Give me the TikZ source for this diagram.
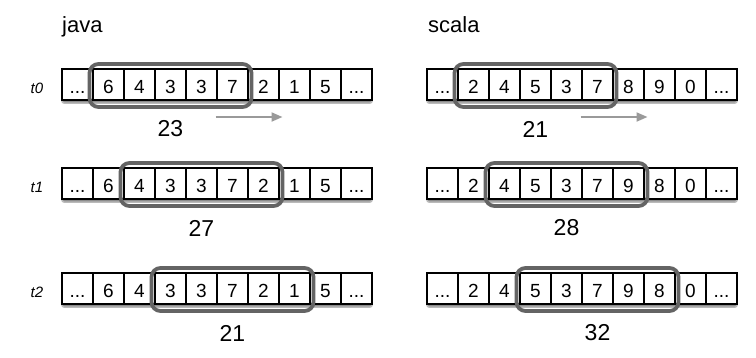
\documentclass[tikz,border=0pt]{standalone}
\usepackage{fontspec}
\setmainfont{Liberation Sans}
\usetikzlibrary{positioning, arrows.meta, fit}
\definecolor{windowGrey}{HTML}{646464}
\definecolor{arrowGrey}{HTML}{9A9A9A}
\definecolor{shadowGrey}{HTML}{8C8C8C}
\newcommand\dotcell{...}

\begin{document}
\begin{tikzpicture}[x=1pt, y=-1pt, every node/.style={align=center},
    cellbox/.style={draw, fill=white, line width=1.1pt, minimum width=31pt, minimum height=31pt, inner sep=0pt, outer sep=0pt, text height=17pt, text depth=0pt, font=\fontsize{19}{21}\selectfont},
    rowshade/.style={fill=shadowGrey, draw=shadowGrey!60, line width=1.5pt, rounded corners=2pt, minimum width=310pt, minimum height=31pt, inner sep=0pt},
    window/.style={draw=windowGrey, line width=3.8pt, rounded corners=9pt, inner xsep=3.5pt, inner ysep=6pt, outer sep=0pt, yshift=-1pt},
    sumlabel/.style={font=\fontsize{23}{26}\selectfont},
    steplabel/.style={font=\fontsize{15}{17}\selectfont\itshape},
    langlabel/.style={font=\fontsize{22}{25}\selectfont, anchor=base west, inner sep=0pt},
    slide/.style={draw=arrowGrey, line width=2pt, -{Triangle[length=11pt, width=9pt]}}]
    \useasboundingbox (0,0) rectangle (756,357);
    \node[langlabel] (java) at (62,32) {java};
    \node[langlabel] (scala) at (428,32) {scala};
    \foreach \name/\y in {t0/88, t1/187, t2/292}
      \node[steplabel] (\name) at (37,\y) {\name};
    % rows of cells with their windows
    \foreach \row/\cx/\cy/\first/\last/\total/\vals in {
        j0/62/84.5/1/5/23/{\dotcell,6,4,3,3,7,2,1,5,\dotcell},
        j1/62/183.5/2/6/27/{\dotcell,6,4,3,3,7,2,1,5,\dotcell},
        j2/62/288.5/3/7/21/{\dotcell,6,4,3,3,7,2,1,5,\dotcell},
        s0/427/84.5/1/5/21/{\dotcell,2,4,5,3,7,8,9,0,\dotcell},
        s1/427/183.5/2/6/28/{\dotcell,2,4,5,3,7,9,8,0,\dotcell},
        s2/427/288.5/3/7/32/{\dotcell,2,4,5,3,7,9,8,0,\dotcell}} {
      \node[rowshade] (\row-bg) at (\cx+155,\cy+3) {};
      \foreach \v [count=\i from 0] in \vals
        \node[cellbox] (\row-\i) at (\cx+15.5+31*\i,\cy) {\v};
      \node[window, fit=(\row-\first)(\row-\last)] (\row-win) {};
      \node[sumlabel] (\row-sum) at ([yshift=-22pt]\row-win.south) {\total};
    }
    \coordinate (j0-from) at ([xshift=-36pt, yshift=-10pt]j0-win.south east);
    \coordinate (j0-to) at ([xshift=31pt, yshift=-10pt]j0-win.south east);
    \coordinate (s0-from) at ([xshift=-36pt, yshift=-10pt]s0-win.south east);
    \coordinate (s0-to) at ([xshift=31pt, yshift=-10pt]s0-win.south east);
    \draw[slide] (j0-from) -- (j0-to);
    \draw[slide] (s0-from) -- (s0-to);
\end{tikzpicture}
\end{document}
